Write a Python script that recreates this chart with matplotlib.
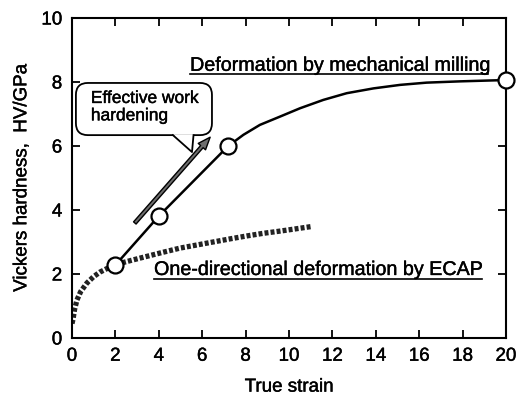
import matplotlib.pyplot as plt
import matplotlib.patheffects as pe
from matplotlib.patches import FancyBboxPatch, Polygon

plt.rcParams['font.family'] = ['Liberation Sans', 'DejaVu Sans']

# Mechanical milling: measured points
mm_strain = [2.0, 4.0, 7.2, 20.0]
mm_hv = [2.28, 3.81, 6.0, 8.06]
# trend line through the milling data
mm_curve_strain = [2.0, 4.0, 7.2, 7.9, 8.66, 9.59, 10.51, 11.58, 12.66, 13.89,
                   15.12, 16.34, 17.88, 19.4, 20.0]
mm_curve_hv = [2.28, 3.81, 6.0, 6.35, 6.66, 6.92, 7.18, 7.44, 7.65, 7.80,
               7.91, 7.98, 8.02, 8.05, 8.06]

# ECAP: one-directional deformation
ecap_strain = [0.0, 0.05, 0.12, 0.23, 0.4, 0.69, 1.0, 1.29, 1.7, 2.2, 2.81,
               3.5, 4.2, 4.98, 5.7, 6.5, 7.3, 8.06, 8.8, 9.58, 10.2, 10.8, 11.0]
ecap_hv = [0.45, 0.6, 0.9, 1.19, 1.45, 1.72, 1.92, 2.06, 2.2, 2.33, 2.44,
           2.56, 2.68, 2.81, 2.9, 3.0, 3.1, 3.19, 3.27, 3.34, 3.4, 3.46, 3.48]

thick = [pe.withStroke(linewidth=0.3, foreground='black')]

fig = plt.figure(figsize=(5.17, 3.98), dpi=100)
ax = fig.add_axes([72 / 517, 60 / 398, 434 / 517, 320 / 398])

ax.plot(ecap_strain, ecap_hv, color='#222222', lw=3.8,
        linestyle=(0, (0.75, 0.4)), solid_capstyle='butt', zorder=2)
ax.plot(mm_curve_strain, mm_curve_hv, color='black', lw=1.8, zorder=3)
ax.plot(mm_strain, mm_hv, 'o', ms=11.5, mfc='white', mec='black', mew=1.6,
        clip_on=False, zorder=4)

# Arrow for effective work hardening
ax.annotate('', xy=(6.45, 6.34), xytext=(2.81, 3.53),
            arrowprops=dict(arrowstyle='simple,head_length=0.9,head_width=0.7,tail_width=0.24',
                            fc='#6e6e6e', ec='black', lw=1.0), zorder=3)

# Callout box with a pointer underneath
aspect = 21.7 / 32.0
box = FancyBboxPatch((0.18, 6.34), 6.27, 1.63,
                     boxstyle='round,pad=0,rounding_size=0.55',
                     mutation_aspect=aspect, fc='white', ec='black', lw=1.3,
                     zorder=5)
ax.add_patch(box)
tail_x = [4.65, 5.53, 5.6]
tail_y = [6.34, 5.81, 6.34]
ax.add_patch(Polygon(list(zip(tail_x, [6.37, 5.81, 6.37])), closed=True,
                     fc='white', ec='none', zorder=6))
ax.plot(tail_x, tail_y, color='black', lw=1.3, zorder=7)
ax.text(0.87, 7.72, 'Effective work\nhardening', fontsize=12.5, va='top',
        ha='left', linespacing=1.2, zorder=8, path_effects=thick)

ax.text(5.44, 8.35, 'Deformation by mechanical milling', fontsize=14.2,
        ha='left', va='baseline', path_effects=thick)
ax.plot([5.44, 19.17], [8.25, 8.25], color='black', lw=1.2)
ax.text(3.78, 1.97, 'One-directional deformation by ECAP', fontsize=14.2,
        ha='left', va='baseline', path_effects=thick)
ax.plot([3.78, 18.9], [1.84, 1.84], color='black', lw=1.2)

ax.set_xlim(0, 20)
ax.set_ylim(0, 10)
ax.set_xticks(range(0, 21, 2))
ax.set_yticks(range(0, 11, 2))
ax.tick_params(direction='in', top=True, right=True, length=6, width=1.3,
               labelsize=13.5, pad=7)
for lab in ax.get_xticklabels() + ax.get_yticklabels():
    lab.set_path_effects(thick)
for sp in ax.spines.values():
    sp.set_linewidth(1.5)

ax.set_xlabel('True strain', fontsize=13.5, labelpad=10, path_effects=thick)
ax.set_ylabel('Vickers hardness,  HV/GPa', fontsize=13.5, labelpad=8,
              path_effects=thick)

fig.savefig('out.png', dpi=100)
